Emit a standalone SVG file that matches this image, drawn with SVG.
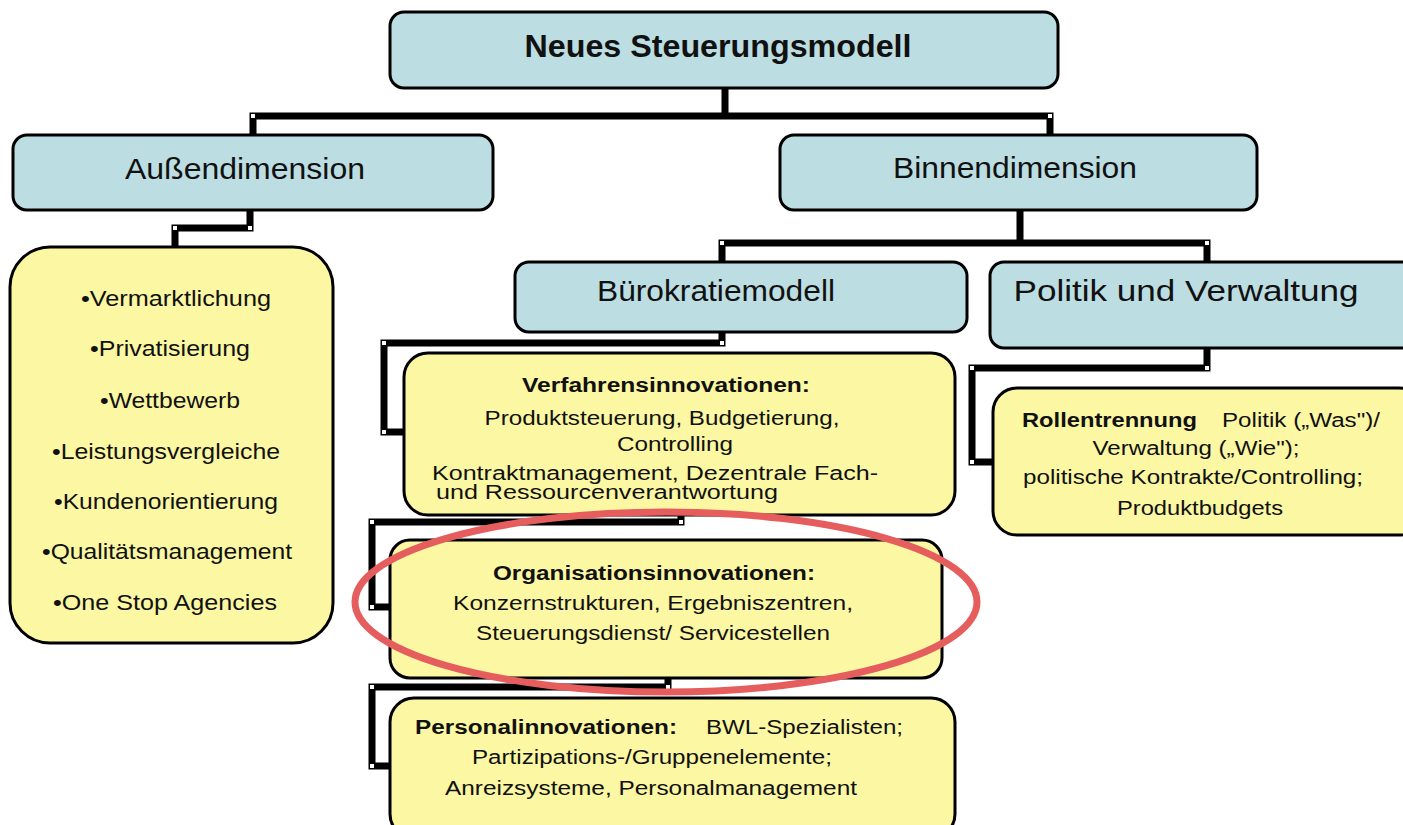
<svg xmlns="http://www.w3.org/2000/svg" width="1403" height="825" viewBox="0 0 1403 825">
<style>
.blue{fill:#bcdee2;stroke:#000;stroke-width:3}
.yel{fill:#fbf7a2;stroke:#000;stroke-width:3}
text{font-family:"Liberation Sans",Arial,sans-serif;fill:#111}
.t{font-size:31px;font-weight:bold}
.h{font-size:30px}
.b{font-size:20px}
.bb{font-size:20px;font-weight:bold}
.l{font-size:22px}
.c{text-anchor:middle}
.con{fill:none;stroke:#000;stroke-width:7;stroke-linejoin:miter}
.sq{fill:#fff;stroke:none}
</style>
<rect width="1403" height="825" fill="#fff"/>
<g id="connectors">
<polyline class="con" points="725,88 725,116"/>
<polyline class="con" points="253,135 253,116 1050,116 1050,135"/>
<polyline class="con" points="250,210 250,228 175,228 175,248"/>
<polyline class="con" points="1020,210 1020,243"/>
<polyline class="con" points="722,262 722,243 1207,243 1207,262"/>
<polyline class="con" points="722,332 722,343 384,343 384,432 405,432"/>
<polyline class="con" points="681,515 681,522 372,522 372,607 390,607"/>
<polyline class="con" points="668,678 668,687 372,687 372,766 390,766"/>
<polyline class="con" points="1207,348 1207,368 972,368 972,462 993,462"/>
<rect class="sq" x="251" y="114" width="4" height="4"/>
<rect class="sq" x="1048" y="114" width="4" height="4"/>
<rect class="sq" x="248" y="226" width="4" height="4"/>
<rect class="sq" x="173" y="226" width="4" height="4"/>
<rect class="sq" x="720" y="241" width="4" height="4"/>
<rect class="sq" x="1205" y="241" width="4" height="4"/>
<rect class="sq" x="720" y="341" width="4" height="4"/>
<rect class="sq" x="382" y="341" width="4" height="4"/>
<rect class="sq" x="382" y="430" width="4" height="4"/>
<rect class="sq" x="679" y="520" width="4" height="4"/>
<rect class="sq" x="370" y="520" width="4" height="4"/>
<rect class="sq" x="370" y="605" width="4" height="4"/>
<rect class="sq" x="666" y="685" width="4" height="4"/>
<rect class="sq" x="370" y="685" width="4" height="4"/>
<rect class="sq" x="370" y="764" width="4" height="4"/>
<rect class="sq" x="1205" y="366" width="4" height="4"/>
<rect class="sq" x="970" y="366" width="4" height="4"/>
<rect class="sq" x="970" y="460" width="4" height="4"/>
</g>
<g id="n-neues">
<rect class="blue" x="390" y="12" width="668" height="76" rx="14"/>
<text class="t c" x="718" y="57" textLength="387" lengthAdjust="spacingAndGlyphs">Neues Steuerungsmodell</text>
</g>
<g id="n-aussen">
<rect class="blue" x="13" y="135" width="480" height="75" rx="14"/>
<text class="h c" x="245" y="179" textLength="240" lengthAdjust="spacingAndGlyphs">Außendimension</text>
</g>
<g id="n-binnen">
<rect class="blue" x="780" y="135" width="477" height="75" rx="14"/>
<text class="h c" x="1015" y="178" textLength="244" lengthAdjust="spacingAndGlyphs">Binnendimension</text>
</g>
<g id="n-aussen-list">
<rect class="yel" x="10" y="247" width="323" height="396" rx="40"/>
<text class="l c" x="176" y="306" textLength="190" lengthAdjust="spacingAndGlyphs">•Vermarktlichung</text>
<text class="l c" x="170" y="356" textLength="160" lengthAdjust="spacingAndGlyphs">•Privatisierung</text>
<text class="l c" x="170" y="408" textLength="140" lengthAdjust="spacingAndGlyphs">•Wettbewerb</text>
<text class="l c" x="166" y="459" textLength="228" lengthAdjust="spacingAndGlyphs">•Leistungsvergleiche</text>
<text class="l c" x="166" y="509" textLength="224" lengthAdjust="spacingAndGlyphs">•Kundenorientierung</text>
<text class="l c" x="167" y="559" textLength="250" lengthAdjust="spacingAndGlyphs">•Qualitätsmanagement</text>
<text class="l c" x="165" y="610" textLength="224" lengthAdjust="spacingAndGlyphs">•One Stop Agencies</text>
</g>
<g id="n-buero">
<rect class="blue" x="515" y="262" width="452" height="70" rx="14"/>
<text class="h c" x="716" y="301" textLength="238" lengthAdjust="spacingAndGlyphs">Bürokratiemodell</text>
</g>
<g id="n-politik">
<rect class="blue" x="990" y="262" width="430" height="86" rx="14"/>
<text class="h c" x="1186" y="301" textLength="345" lengthAdjust="spacingAndGlyphs">Politik und Verwaltung</text>
</g>
<g id="n-verfahren">
<rect class="yel" x="404" y="353" width="551" height="162" rx="24"/>
<text class="bb c" x="666" y="392" textLength="288" lengthAdjust="spacingAndGlyphs">Verfahrensinnovationen:</text>
<text class="b c" x="662" y="425" textLength="355" lengthAdjust="spacingAndGlyphs">Produktsteuerung, Budgetierung,</text>
<text class="b c" x="675" y="451" textLength="116" lengthAdjust="spacingAndGlyphs">Controlling</text>
<text class="b" x="432" y="480" textLength="446" lengthAdjust="spacingAndGlyphs">Kontraktmanagement, Dezentrale Fach-</text>
<text class="b" x="436" y="499" textLength="342" lengthAdjust="spacingAndGlyphs">und Ressourcenverantwortung</text>
</g>
<g id="n-organisation">
<rect class="yel" x="390" y="540" width="552" height="138" rx="20"/>
<text class="bb c" x="654" y="580" textLength="322" lengthAdjust="spacingAndGlyphs">Organisationsinnovationen:</text>
<text class="b c" x="653" y="610" textLength="400" lengthAdjust="spacingAndGlyphs">Konzernstrukturen, Ergebniszentren,</text>
<text class="b c" x="653" y="640" textLength="354" lengthAdjust="spacingAndGlyphs">Steuerungsdienst/ Servicestellen</text>
</g>
<g id="n-personal">
<rect class="yel" x="390" y="698" width="565" height="140" rx="24"/>
<text class="bb" x="415" y="734" textLength="262" lengthAdjust="spacingAndGlyphs">Personalinnovationen:</text>
<text class="b" x="706" y="734" textLength="197" lengthAdjust="spacingAndGlyphs">BWL-Spezialisten;</text>
<text class="b c" x="652" y="764" textLength="360" lengthAdjust="spacingAndGlyphs">Partizipations-/Gruppenelemente;</text>
<text class="b c" x="651" y="795" textLength="412" lengthAdjust="spacingAndGlyphs">Anreizsysteme, Personalmanagement</text>
</g>
<g id="n-rollen">
<rect class="yel" x="993" y="388" width="430" height="147" rx="24"/>
<text class="bb" x="1022" y="427" textLength="175" lengthAdjust="spacingAndGlyphs">Rollentrennung</text>
<text class="b" x="1222" y="427" textLength="158" lengthAdjust="spacingAndGlyphs">Politik („Was")/</text>
<text class="b c" x="1196" y="455" textLength="207" lengthAdjust="spacingAndGlyphs">Verwaltung („Wie");</text>
<text class="b c" x="1193" y="484" textLength="340" lengthAdjust="spacingAndGlyphs">politische Kontrakte/Controlling;</text>
<text class="b c" x="1200" y="515" textLength="166" lengthAdjust="spacingAndGlyphs">Produktbudgets</text>
</g>
<g id="highlight">
<ellipse cx="666" cy="602" rx="311" ry="90" fill="none" stroke="#e65d5e" stroke-width="7"/>
</g>
</svg>
